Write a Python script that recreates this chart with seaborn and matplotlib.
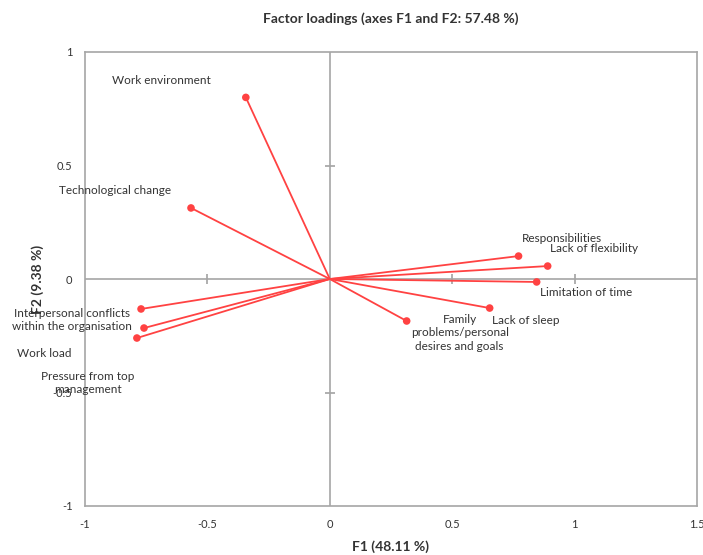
import matplotlib
matplotlib.use("Agg")
import matplotlib.pyplot as plt
import pandas as pd
import seaborn as sns

sns.set_theme(style="white")
plt.rcParams["font.family"] = ["Lato", "DejaVu Sans"]
red, grey, ink = "#FF4242", "#A6A6A6", "#333333"

variables = ["Work environment", "Technological change", "Responsibilities", "Lack of flexibility",
             "Limitation of time", "Lack of sleep", "Family\nproblems/personal\ndesires and goals",
             "Interpersonal conflicts\nwithin the organisation", "Work load", "Pressure from top\nmanagement"]
f1 = [-0.343, -0.567, 0.771, 0.890, 0.845, 0.653, 0.314, -0.771, -0.759, -0.788]
f2 = [0.800, 0.313, 0.101, 0.057, -0.013, -0.128, -0.185, -0.132, -0.216, -0.260]
# label offsets in pixels (centre of text relative to point)
label_dx = [-84, -76, 43, 46, 49, 36, 53, -69, -100, -49]
label_dy = [17, 17, 18, 18, -11, -12, -12, -11, -25, -45]

df = pd.DataFrame({"variable": variables, "F1": f1, "F2": f2})

fig = plt.figure(figsize=(7.03, 5.55), dpi=100)
ax = fig.add_axes([85 / 703, 1 - 506 / 555, 612 / 703, 454 / 555])

for _, row in df.iterrows():
    ax.plot([0, row["F1"]], [0, row["F2"]], color=red, lw=1.3, zorder=2)
sns.scatterplot(data=df, x="F1", y="F2", ax=ax, color=red, s=30, edgecolor="none", zorder=3, legend=False)

for (_, row), dx, dy in zip(df.iterrows(), label_dx, label_dy):
    ax.annotate(row["variable"], (row["F1"], row["F2"]), xytext=(dx, dy), textcoords="offset pixels",
                ha="center", va="center", fontsize=8.5, color=ink, linespacing=1.3, zorder=4)

ax.set_xlim(-1, 1.5)
ax.set_ylim(-1, 1)
ax.set_xticks([-1, -0.5, 0, 0.5, 1, 1.5])
ax.set_yticks([-1, -0.5, 0, 0.5, 1])
ax.set_xticklabels(["-1", "-0.5", "0", "0.5", "1", "1.5"])
ax.set_yticklabels(["-1", "-0.5", "0", "0.5", "1"])
ax.tick_params(length=0, labelsize=8, colors=ink, pad=9)
for sp in ax.spines.values():
    sp.set_color(grey)
    sp.set_linewidth(1.2)
ax.axhline(0, color=grey, lw=1.2, zorder=1)
ax.axvline(0, color=grey, lw=1.2, zorder=1)

# tick marks on the centre axes
sx = ax.secondary_xaxis(0.5)
sx.set_xticks([-0.5, 0.5, 1])
sx.tick_params(direction="inout", length=7, color=grey, labelbottom=False, labeltop=False)
sx.spines["top"].set_visible(False)
sx.spines["bottom"].set_visible(False)
sy = ax.secondary_yaxis(0.4)
sy.set_yticks([-0.5, 0.5])
sy.tick_params(direction="inout", length=7, color=grey, labelleft=False, labelright=False)
sy.spines["left"].set_visible(False)
sy.spines["right"].set_visible(False)

ax.set_xlabel("F1 (48.11 %)", fontsize=10, weight="bold", color=ink, labelpad=8)
ax.set_ylabel("F2 (9.38 %)", fontsize=10, weight="bold", color=ink, labelpad=6)
ax.set_title("Factor loadings (axes F1 and F2: 57.48 %)", fontsize=10, weight="bold", color=ink, pad=21)

fig.savefig("out.png", dpi=100)
plt.close(fig)
